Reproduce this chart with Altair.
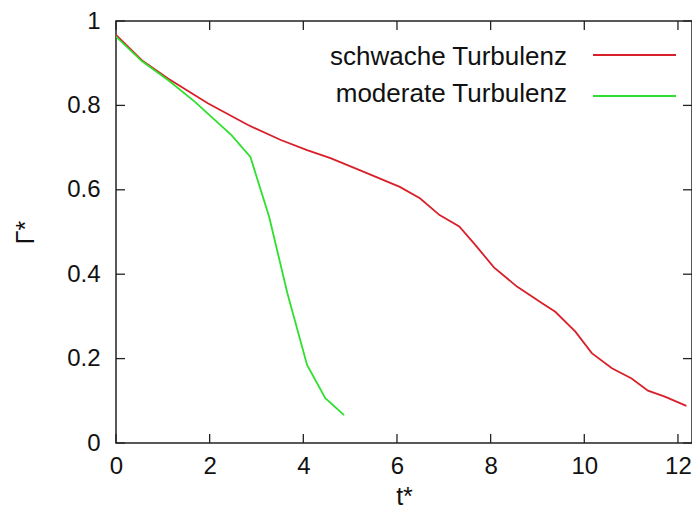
import altair as alt
import pandas as pd

# --- data ---
series_names = ["schwache Turbulenz", "moderate Turbulenz"]

t_weak = [0.0, 0.55, 1.11, 1.96, 2.81, 3.52, 4.08, 4.58, 5.28, 6.06, 6.49, 6.91,
          7.33, 7.69, 8.07, 8.57, 9.10, 9.38, 9.81, 10.16, 10.59, 11.01, 11.36,
          11.72, 12.18]
g_weak = [0.967, 0.907, 0.864, 0.805, 0.754, 0.718, 0.694, 0.675, 0.643, 0.607,
          0.580, 0.540, 0.513, 0.467, 0.416, 0.370, 0.331, 0.311, 0.264, 0.213,
          0.177, 0.153, 0.124, 0.110, 0.088]

t_mod = [0.0, 0.55, 1.11, 1.68, 2.46, 2.87, 3.27, 3.66, 4.08, 4.47, 4.87]
g_mod = [0.963, 0.905, 0.860, 0.809, 0.730, 0.678, 0.536, 0.355, 0.185, 0.106, 0.066]

x_ticks = [0, 2, 4, 6, 8, 10, 12]
y_ticks = [0, 0.2, 0.4, 0.6, 0.8, 1.0]

colors = ["#d8202a", "#2ee02e"]

W, H = 576, 422
FONT = "Liberation Sans"

df = pd.concat([
    pd.DataFrame({"t": t_weak, "g": g_weak, "s": series_names[0]}),
    pd.DataFrame({"t": t_mod, "g": g_mod, "s": series_names[1]}),
])

xscale = alt.Scale(domain=[0, 12.3], nice=False, zero=False)
yscale = alt.Scale(domain=[0, 1], nice=False)

lines = alt.Chart(df).mark_line(strokeWidth=1.8, clip=True).encode(
    x=alt.X("t:Q", scale=xscale,
            axis=alt.Axis(values=x_ticks, title="t*", tickSize=0, labelPadding=11,
                          labelFlush=False,
                          labelFontSize=24, labelFont=FONT, labelColor="#111",
                          titleFontSize=25, titleFont=FONT, titleFontWeight="normal",
                          titleColor="#111", titleX=288, titleY=61,
                          titleBaseline="alphabetic", domain=False, grid=False)),
    y=alt.Y("g:Q", scale=yscale,
            axis=alt.Axis(values=y_ticks, title="Γ*", tickSize=0, labelPadding=16,
                          labelFlush=False,
                          format=".1~f", labelFontSize=24, labelFont=FONT,
                          labelColor="#111", titleFontSize=25, titleFont=FONT,
                          titleFontWeight="normal", titleColor="#111",
                          titleX=-91, titleY=211, titleAngle=-90,
                          titleAlign="center", titleBaseline="middle",
                          domain=False, grid=False)),
    color=alt.Color("s:N", scale=alt.Scale(domain=series_names, range=colors),
                    legend=None),
    detail="s:N",
)

xt = pd.DataFrame({"v": x_ticks})
yt = pd.DataFrame({"v": y_ticks})
TL = 9
tick_style = dict(color="#222", strokeWidth=1.3)
xtick_bottom = alt.Chart(xt).mark_rule(**tick_style).encode(
    x=alt.X("v:Q", scale=xscale), y=alt.value(H), y2=alt.value(H - TL))
xtick_top = alt.Chart(xt).mark_rule(**tick_style).encode(
    x=alt.X("v:Q", scale=xscale), y=alt.value(0), y2=alt.value(TL))
ytick_left = alt.Chart(yt).mark_rule(**tick_style).encode(
    y=alt.Y("v:Q", scale=yscale), x=alt.value(0), x2=alt.value(TL))
ytick_right = alt.Chart(yt).mark_rule(**tick_style).encode(
    y=alt.Y("v:Q", scale=yscale), x=alt.value(W), x2=alt.value(W - TL))

# legend (gnuplot style: label left, sample line right)
leg_layers = []
rows = [(44, 34), (81, 75)]
for name, col, (ty, ly) in zip(series_names, colors, rows):
    leg_layers.append(
        alt.Chart(pd.DataFrame({"s": [name]})).mark_text(
            align="right", baseline="alphabetic", font=FONT, fontSize=26,
            color="#111").encode(text="s:N", x=alt.value(451), y=alt.value(ty)))
    leg_layers.append(
        alt.Chart(pd.DataFrame({"s": [name]})).mark_rule(
            color=col, strokeWidth=1.8).encode(
            x=alt.value(477), x2=alt.value(560), y=alt.value(ly)))

chart = alt.layer(
    lines, xtick_bottom, xtick_top, ytick_left, ytick_right, *leg_layers
).properties(
    width=W, height=H,
    padding={"left": 108, "top": 13, "right": 0, "bottom": 69},
    autosize=alt.AutoSizeParams(type="none"),
    background="white",
).configure_view(stroke="#222", strokeWidth=1.5)

chart.save("out.html", embed_options={"renderer": "svg", "actions": False})
